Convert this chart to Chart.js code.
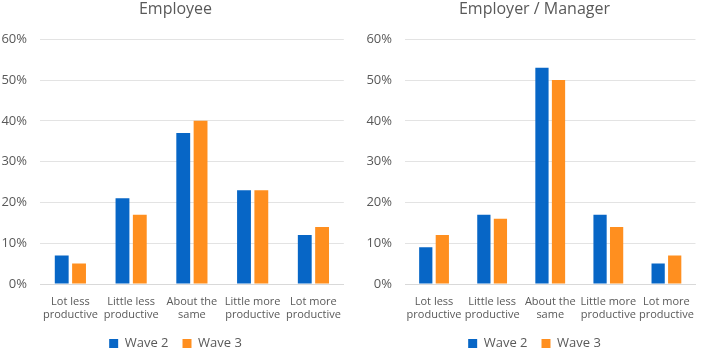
<!DOCTYPE html>
<html>
<head>
<meta charset="utf-8">
<script src="https://cdn.jsdelivr.net/npm/chart.js@4"></script>
<style>
    html, body { margin: 0; padding: 0; background: #ffffff; }
    .wrap { display: flex; width: 705px; height: 350px; }
    .box { position: relative; height: 350px; }
    #box-left { width: 352px; }
    #box-right { width: 353px; }
</style>
</head>
<body>
<div class="wrap">
    <div class="box" id="box-left"><canvas id="employee-chart"></canvas></div>
    <div class="box" id="box-right"><canvas id="employer-chart"></canvas></div>
</div>
<script>
const categories = [
    ['Lot less', 'productive'],
    ['Little less', 'productive'],
    ['About the', 'same'],
    ['Little more', 'productive'],
    ['Lot more', 'productive']
];
const seriesNames = ['Wave 2', 'Wave 3'];
const employeeWave2 = [7, 21, 37, 23, 12];
const employeeWave3 = [5, 17, 40, 23, 14];
const employerWave2 = [9, 17, 53, 17, 5];
const employerWave3 = [12, 16, 50, 14, 7];
const yTicks = [0, 10, 20, 30, 40, 50, 60];

const BLUE = '#0766C6';
const ORANGE = '#FF8F1F';
const TEXT = '#595959';
const FONT = "'Open Sans', sans-serif";

document.addEventListener('DOMContentLoaded', function() {
    initChart('employee-chart', 'Employee', employeeWave2, employeeWave3, 0, 40);
    initChart('employer-chart', 'Employer / Manager', employerWave2, employerWave3, 13, 40);
});

function initChart(id, title, wave2, wave3, padLeft, axisWidth) {
    const ctx = document.getElementById(id).getContext('2d');

    new Chart(ctx, {
        type: 'bar',
        data: {
            labels: categories,
            datasets: [
                {
                    label: seriesNames[0],
                    data: wave2,
                    backgroundColor: BLUE,
                    barPercentage: 0.8,
                    categoryPercentage: 0.57
                },
                {
                    label: seriesNames[1],
                    data: wave3,
                    backgroundColor: ORANGE,
                    barPercentage: 0.8,
                    categoryPercentage: 0.57
                }
            ]
        },
        options: {
            responsive: true,
            maintainAspectRatio: false,
            animation: false,
            layout: {
                padding: { left: padLeft, right: 1, top: 0, bottom: -10 }
            },
            scales: {
                x: {
                    afterFit: function(scale) { scale.height = 39; },
                    grid: { display: false, drawTicks: false },
                    border: { display: true, color: '#D9D9D9', width: 1 },
                    ticks: {
                        color: TEXT,
                        padding: 11,
                        maxRotation: 0,
                        autoSkip: false,
                        font: { family: FONT, size: 11, lineHeight: 1.2 }
                    }
                },
                y: {
                    min: 0,
                    max: 60,
                    afterFit: function(scale) { scale.width = axisWidth; },
                    afterBuildTicks: function(scale) {
                        scale.ticks = yTicks.map(v => ({ value: v }));
                    },
                    grid: { color: '#E3E3E3', drawTicks: false },
                    border: { display: false },
                    ticks: {
                        color: TEXT,
                        padding: 13,
                        font: { family: FONT, size: 13 },
                        callback: function(value) { return value + '%'; }
                    }
                }
            },
            plugins: {
                title: {
                    display: true,
                    text: title,
                    color: TEXT,
                    padding: { top: 0, bottom: 20 },
                    font: { family: FONT, size: 16, weight: 'normal' }
                },
                legend: {
                    position: 'bottom',
                    labels: {
                        color: TEXT,
                        boxWidth: 9,
                        boxHeight: 9,
                        padding: 14,
                        font: { family: FONT, size: 13 }
                    }
                },
                tooltip: { enabled: false }
            }
        }
    });
}
</script>
</body>
</html>
